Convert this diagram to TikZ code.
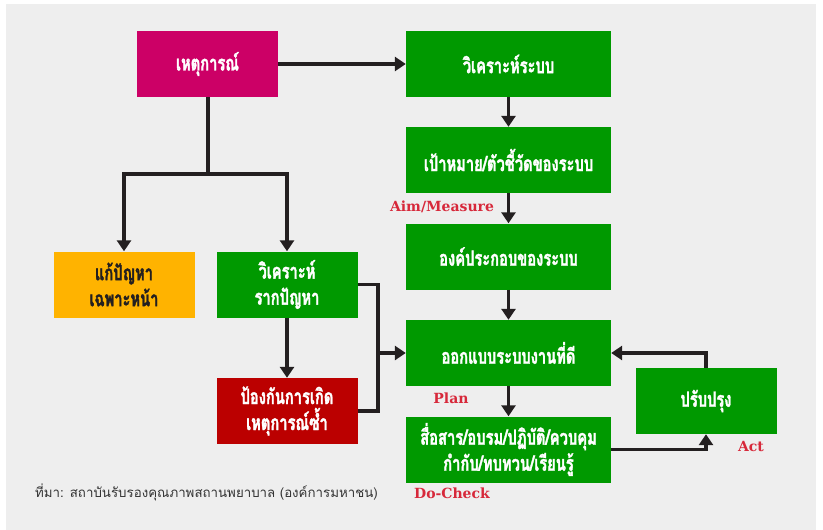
\documentclass[tikz,border=0pt]{standalone}
\usepackage{fontspec}
\usetikzlibrary{arrows.meta}
\newfontfamily\thaibox[Script=Thai, FakeStretch=0.7, BoldFeatures={FakeBold=1.6}]{Loma}
\newfontfamily\thaireg[Script=Thai]{Loma}
\newfontfamily\labfont{DejaVu Serif}
\definecolor{bgc}{HTML}{EEEEEE}
\definecolor{mag}{HTML}{CC0066}
\definecolor{grn}{HTML}{009900}
\definecolor{org}{HTML}{FFB300}
\definecolor{dred}{HTML}{BB0000}
\definecolor{lnc}{HTML}{231F20}
\definecolor{labc}{HTML}{D7283A}
\definecolor{srcc}{HTML}{333333}
\tikzset{
  box/.style={minimum height=66pt, inner sep=0pt, align=center, text=white,
    font=\thaibox\bfseries\fontsize{21}{26}\selectfont},
  widebox/.style={box, minimum width=205pt},
  narrowbox/.style={box, minimum width=141pt},
  conn/.style={draw=lnc, line width=3.8pt},
  arr/.style={conn, -{Triangle[width=14pt,length=11pt]}},
  lab/.style={text=labc, font=\labfont\bfseries\fontsize{14}{14}\selectfont, inner sep=0pt},
}
\begin{document}
\begin{tikzpicture}[x=1pt, y=-1pt]
\useasboundingbox (0,0) rectangle (823,530);
\fill[bgc] (6,4) rectangle (816,530);
% boxes
\node[narrowbox, fill=mag] (ev) at (207.5,64) {เหตุการณ์};
\node[widebox, fill=grn] (sys) at (508.5,64) {วิเคราะห์ระบบ};
\node[widebox, fill=grn] (aim) at (508.5,160) {เป้าหมาย/ตัวชี้วัดของระบบ};
\node[widebox, fill=grn] (comp) at (508.5,256.5) {องค์ประกอบของระบบ};
\node[widebox, fill=grn] (design) at (508.5,353) {ออกแบบระบบงานที่ดี};
\node[widebox, fill=grn] (comm) at (508.5,449.5) {สื่อสาร/อบรม/ปฏิบัติ/ควบคุม\\กำกับ/ทบทวน/เรียนรู้};
\node[narrowbox, fill=grn] (imp) at (706,401) {ปรับปรุง};
\node[narrowbox, fill=org, text=lnc] (fix) at (124,284.5) {แก้ปัญหา\\เฉพาะหน้า};
\node[narrowbox, fill=grn] (root) at (287,284.5) {วิเคราะห์\\รากปัญหา};
\node[narrowbox, fill=dred] (prev) at (287,411) {ป้องกันการเกิด\\เหตุการณ์ซ้ำ};
% junctions
\coordinate (j) at (208,174);
\coordinate (b) at (378,353);
% connectors
\draw[arr] (ev.east) -- (sys.west);
\draw[conn] (ev.south -| j) -- (j);
\draw[arr] (j) -| (fix.north);
\draw[arr] (j) -| (root.north);
\draw[arr] (sys) -- (aim);
\draw[arr] (aim) -- (comp);
\draw[arr] (comp) -- (design);
\draw[arr] (design) -- (comm);
\draw[arr] (root) -- (prev);
\draw[conn] (root.east) -| (prev.east -| b) -- (prev.east);
\draw[arr] (b) -- (design.west);
\draw[arr] (imp.north) |- (design.east);
\draw[arr] (comm.east) -| (imp.south);
% labels
\node[lab] (laim) at (442,207) {Aim/Measure};
\node[lab] (lplan) at (451,398) {Plan};
\node[lab] (ldo) at (452,493) {Do-Check};
\node[lab] (lact) at (751,446) {Act};
\node[anchor=west, inner sep=0pt, text=srcc, font=\thaireg\fontsize{13.3}{15}\selectfont] (src) at (35,492) {ที่มา: สถาบันรับรองคุณภาพสถานพยาบาล (องค์การมหาชน)};
\end{tikzpicture}
\end{document}
